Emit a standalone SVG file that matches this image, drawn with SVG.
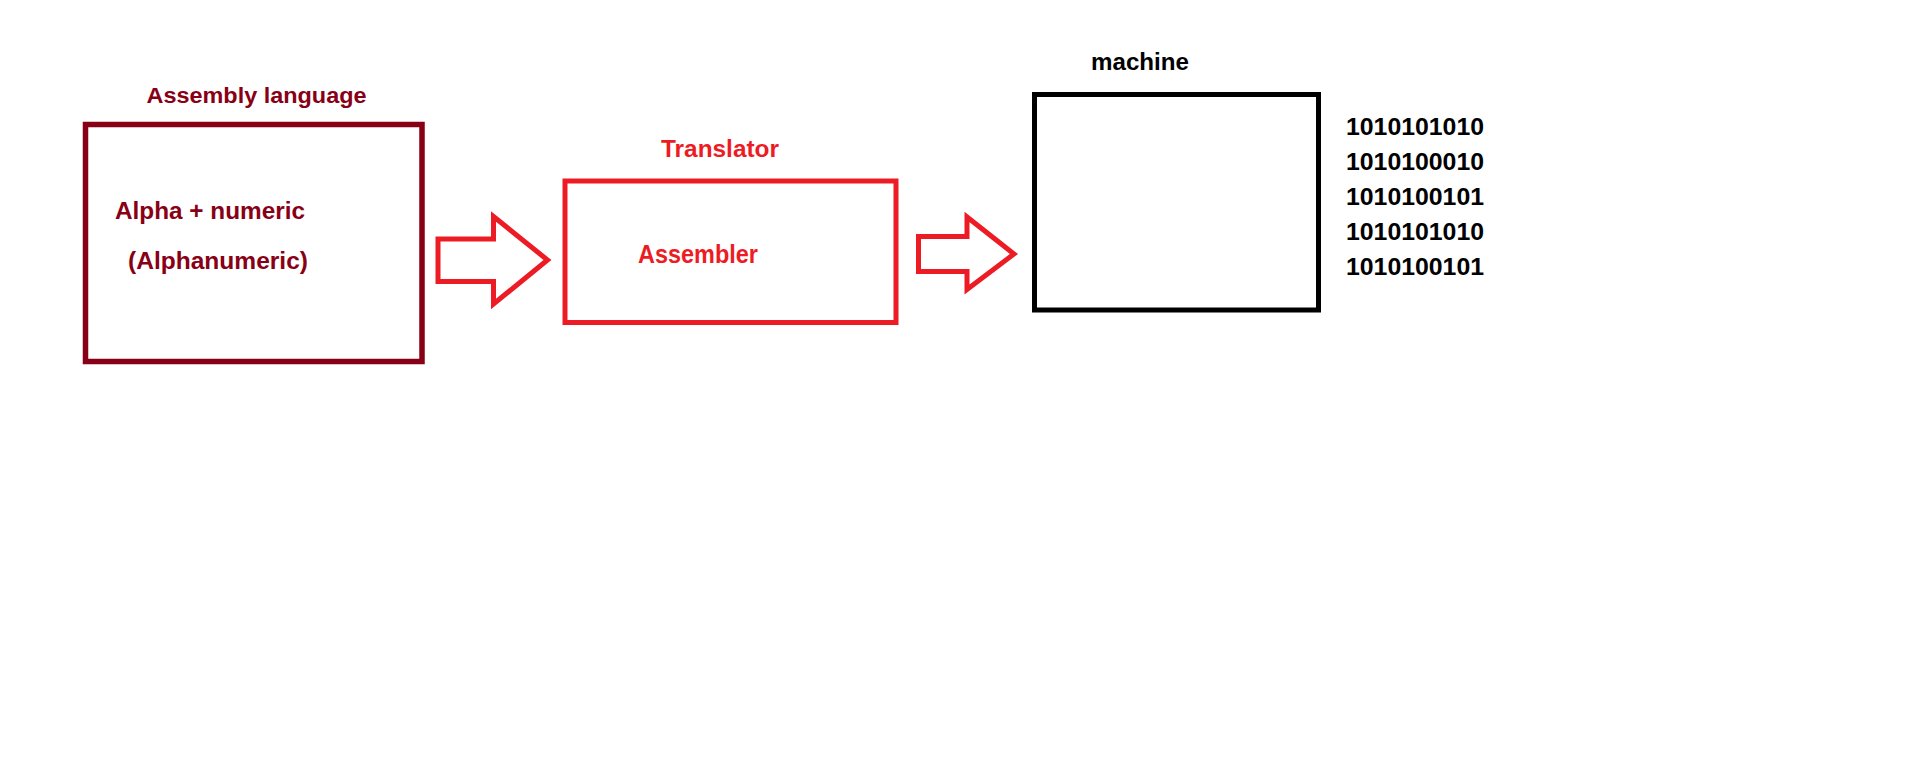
<svg xmlns="http://www.w3.org/2000/svg" width="1910" height="772" viewBox="0 0 1910 772">
  <style>
    text { font-family: "Liberation Sans", Arial, sans-serif; font-weight: bold; }
    .dark { fill: #880015; }
    .red { fill: #ED1C24; }
    .black { fill: #000000; }
    .box { fill: none; stroke-linejoin: miter; }
    .arrow { fill: #FFFFFF; stroke: #ED1C24; stroke-width: 5; stroke-linejoin: miter; }
  </style>
  <rect width="1910" height="772" fill="#FFFFFF"/>

  <!-- Source program -->
  <g id="assembly-language">
    <text class="dark" x="146.5" y="102.5" font-size="22.5" textLength="220" lengthAdjust="spacingAndGlyphs">Assembly language</text>
    <rect class="box" x="85.5" y="124.5" width="336.5" height="237" stroke="#880015" stroke-width="5.5"/>
    <text class="dark" x="115" y="219" font-size="24" textLength="190" lengthAdjust="spacingAndGlyphs">Alpha + numeric</text>
    <text class="dark" x="128" y="268.5" font-size="24" textLength="180" lengthAdjust="spacingAndGlyphs">(Alphanumeric)</text>
  </g>

  <!-- Translator -->
  <g id="translator">
    <text class="red" x="661" y="156.5" font-size="23" textLength="118" lengthAdjust="spacingAndGlyphs">Translator</text>
    <rect class="box" x="565" y="181" width="331" height="141.5" stroke="#ED1C24" stroke-width="5"/>
    <text class="red" x="638" y="263" font-size="25" textLength="120" lengthAdjust="spacingAndGlyphs">Assembler</text>
  </g>

  <!-- Machine -->
  <g id="machine">
    <text class="black" x="1091" y="70" font-size="23" textLength="98" lengthAdjust="spacingAndGlyphs">machine</text>
    <rect class="box" x="1034.5" y="94.5" width="284" height="215.5" stroke="#000000" stroke-width="5"/>
  </g>

  <!-- Machine code -->
  <g id="binary-code" class="black" font-size="24.8">
    <text x="1346" y="135" textLength="138" lengthAdjust="spacingAndGlyphs">1010101010</text>
    <text x="1346" y="170" textLength="138" lengthAdjust="spacingAndGlyphs">1010100010</text>
    <text x="1346" y="205" textLength="138" lengthAdjust="spacingAndGlyphs">1010100101</text>
    <text x="1346" y="240" textLength="138" lengthAdjust="spacingAndGlyphs">1010101010</text>
    <text x="1346" y="275" textLength="138" lengthAdjust="spacingAndGlyphs">1010100101</text>
  </g>

  <!-- Block arrows between stages -->
  <g id="connectors">
    <polygon class="arrow" points="438,239 493.5,239 493.5,216.5 547.5,260 493.5,304 493.5,281.5 438,281.5"/>
    <polygon class="arrow" points="918.5,236.5 967,236.5 967,217 1014,254 967,289.5 967,271.5 918.5,271.5"/>
  </g>
</svg>
